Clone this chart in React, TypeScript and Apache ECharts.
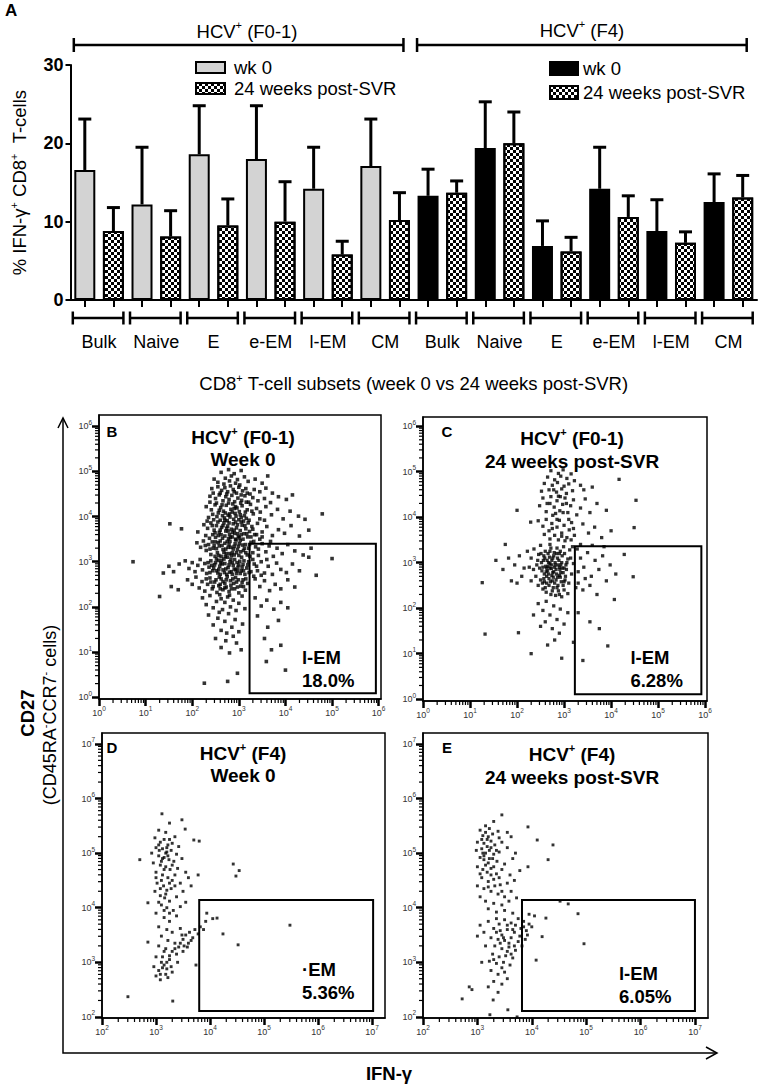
import React, { useEffect, useRef } from "react";
import * as echarts from "echarts";

const FONT = '"Liberation Sans", Arial, Helvetica, sans-serif';

// ---------------- Panel A data ----------------
const subsets = ["Bulk", "Naive", "E", "e-EM", "l-EM", "CM"];
const cohorts = ["F0-1", "F4"];
const timepoints = ["wk 0", "24 weeks post-SVR"];
const f01Wk0 = [16.6, 12.2, 18.6, 18.0, 14.2, 17.1];
const f01Wk0Sem = [6.5, 7.3, 6.2, 6.8, 5.3, 6.0];
const f01Post = [8.8, 8.1, 9.5, 10.0, 5.8, 10.2];
const f01PostSem = [3.0, 3.3, 3.4, 5.1, 1.7, 3.5];
const f4Wk0 = [13.3, 19.4, 6.9, 14.2, 8.8, 12.5];
const f4Wk0Sem = [3.4, 5.9, 3.2, 5.3, 4.0, 3.6];
const f4Post = [13.7, 20.0, 6.2, 10.6, 7.3, 13.1];
const f4PostSem = [1.5, 4.0, 1.8, 2.7, 1.4, 2.8];
const yTicksA = [0, 10, 20, 30];

// ---------------- Flow panels (log10 units) ----------------
const decadesBC = [0, 1, 2, 3, 4, 5, 6];
const decadesDE = [2, 3, 4, 5, 6, 7];
const panelLetters = ["B", "C", "D", "E"];
const panelCohort = ["(F0-1)", "(F0-1)", "(F4)", "(F4)"];
const panelTime = ["Week 0", "24 weeks post-SVR", "Week 0", "24 weeks post-SVR"];
const gateNames = ["l-EM", "l-EM", "\u00b7EM", "l-EM"];
const gatePercents = ["18.0%", "6.28%", "5.36%", "6.05%"];
const gateB = [3.23, 0.09, 5.94, 3.4];
const gateC = [3.23, 0.11, 5.92, 3.36];
const gateD = [3.8, 2.11, 7.02, 4.14];
const gateE = [3.82, 2.11, 7.0, 4.14];

const cellsB = [
  [2.62,4.98],[2.78,5.04],[2.9,4.95],[3.05,5.02],[2.71,4.85],[2.84,4.9],[2.97,4.82],[3.12,4.88],[2.55,4.76],[2.68,4.72],[2.8,4.79],[2.93,4.74],[3.02,4.7],[3.2,4.78],[3.35,4.83],[3.5,4.74],[2.47,4.83],[3.62,4.9],
  [2.42,4.62],[2.55,4.66],[2.63,4.58],[2.7,4.64],[2.76,4.55],[2.82,4.68],[2.88,4.6],[2.95,4.52],[3.0,4.65],[3.08,4.57],[3.15,4.62],[3.24,4.5],[3.33,4.6],[3.45,4.55],[3.58,4.63],[3.72,4.52],[2.38,4.45],[2.5,4.4],[2.58,4.48],[2.66,4.35],[2.72,4.44],[2.79,4.38],[2.85,4.47],[2.91,4.33],[2.98,4.41],[3.06,4.36],[3.13,4.46],[3.21,4.32],[3.3,4.42],[3.41,4.35],[3.55,4.4],[3.68,4.31],[3.85,4.44],[4.02,4.38],[4.15,4.48],
  [2.3,4.22],[2.41,4.15],[2.49,4.26],[2.56,4.08],[2.61,4.2],[2.67,4.12],[2.73,4.25],[2.77,4.03],[2.83,4.16],[2.87,4.28],[2.92,4.07],[2.96,4.19],[3.01,4.11],[3.07,4.24],[3.12,4.02],[3.18,4.15],[3.25,4.27],[3.31,4.06],[3.38,4.18],[2.35,3.98],[2.46,3.93],[2.53,4.0],[2.6,3.92],[2.69,3.97],[2.75,3.91],[2.81,3.99],[2.89,3.94],[2.94,4.01],[3.0,3.93],[3.05,3.98],[3.1,3.9],[3.16,3.96],[3.22,3.92],[2.71,4.08],[2.86,4.1],[3.46,4.1],[3.58,4.22],[3.7,4.04],[3.83,4.16],[3.95,3.95],[4.1,4.12],[4.28,4.01],[4.42,3.94],[1.52,3.84],
  [2.25,3.82],[2.33,3.74],[2.4,3.86],[2.47,3.7],[2.52,3.8],[2.58,3.65],[2.63,3.76],[2.68,3.86],[2.72,3.68],[2.76,3.79],[2.8,3.6],[2.84,3.72],[2.88,3.84],[2.91,3.63],[2.95,3.75],[2.99,3.56],[3.03,3.69],[3.07,3.81],[3.11,3.62],[3.15,3.73],[3.19,3.55],[3.23,3.67],[3.28,3.78],[3.34,3.6],[2.29,3.58],[2.37,3.52],[2.44,3.6],[2.5,3.54],[2.56,3.58],[2.65,3.52],[2.7,3.57],[2.78,3.51],[2.86,3.55],[2.93,3.5],[3.01,3.53],[3.09,3.5],[2.6,3.7],[2.74,3.74],[2.9,3.7],[2.97,3.82],[3.4,3.85],[3.5,3.66],[3.6,3.78],[3.72,3.58],[3.85,3.71],[3.98,3.63],[4.12,3.8],[4.3,3.57],[4.5,3.7],[1.77,3.73],[2.12,3.66],
  [2.1,3.42],[2.18,3.32],[2.24,3.46],[2.3,3.25],[2.35,3.38],[2.4,3.16],[2.45,3.3],[2.5,3.44],[2.54,3.2],[2.58,3.35],[2.62,3.12],[2.66,3.27],[2.7,3.41],[2.73,3.18],[2.77,3.32],[2.81,3.45],[2.84,3.14],[2.88,3.28],[2.92,3.4],[2.95,3.2],[2.99,3.34],[3.03,3.47],[3.06,3.1],[3.1,3.25],[3.14,3.38],[3.18,3.15],[3.21,3.3],[3.26,3.43],[3.3,3.2],[2.52,3.29],[2.68,3.21],[2.79,3.38],[2.86,3.2],[2.97,3.27],[3.08,3.37],[2.6,3.46],[2.75,3.1],[2.43,3.44],[3.36,3.33],[3.42,3.14],[3.5,3.4],[3.58,3.22],[3.65,3.35],[3.74,3.12],[3.82,3.3],[3.93,3.18],[4.05,3.38],[4.2,3.24],[4.38,3.15],[4.55,3.3],[5.0,3.07],
  [1.72,2.95],[1.85,3.02],[1.93,2.85],[2.0,2.98],[2.06,2.78],[2.12,2.92],[2.17,3.05],[2.22,2.82],[2.27,2.96],[2.31,2.74],[2.36,2.88],[2.4,3.02],[2.44,2.8],[2.48,2.93],[2.52,3.06],[2.55,2.75],[2.59,2.9],[2.63,3.03],[2.66,2.82],[2.7,2.96],[2.74,2.72],[2.77,2.87],[2.81,3.0],[2.84,2.78],[2.88,2.92],[2.91,3.05],[2.95,2.74],[2.98,2.88],[3.02,3.01],[3.05,2.8],[3.09,2.94],[3.13,2.72],[3.17,2.86],[3.21,3.0],[3.26,2.78],[2.46,2.86],[2.61,2.97],[2.72,2.84],[2.86,2.98],[2.93,2.82],[3.0,2.93],[2.57,2.83],[3.33,2.95],[3.4,2.8],[3.48,3.0],[3.55,2.75],[3.63,2.9],[3.72,2.72],[3.81,2.97],[3.9,2.83],[4.02,2.76],[4.15,2.95],[4.3,2.8],[4.66,2.7],[1.5,2.9],[1.6,2.78],[0.73,3.0],[1.38,2.75],
  [1.9,2.6],[2.0,2.5],[2.08,2.66],[2.15,2.42],[2.21,2.56],[2.27,2.35],[2.33,2.5],[2.38,2.64],[2.43,2.4],[2.48,2.55],[2.53,2.32],[2.57,2.47],[2.62,2.62],[2.66,2.38],[2.7,2.52],[2.75,2.67],[2.79,2.34],[2.83,2.48],[2.87,2.62],[2.91,2.4],[2.95,2.55],[3.0,2.31],[3.04,2.46],[3.09,2.6],[3.14,2.37],[3.19,2.52],[2.6,2.5],[2.73,2.44],[2.89,2.52],[3.35,2.62],[3.45,2.45],[3.55,2.58],[3.66,2.36],[3.78,2.5],[3.9,2.4],[4.05,2.6],[4.2,2.44],[1.3,2.23],[1.55,2.45],[1.7,2.38],
  [2.22,2.2],[2.3,2.05],[2.38,2.25],[2.45,1.98],[2.52,2.12],[2.59,2.27],[2.65,1.94],[2.7,2.1],[2.76,2.22],[2.82,2.0],[2.88,2.15],[2.94,1.92],[3.0,2.08],[3.07,2.24],[3.13,1.96],[2.62,2.18],[2.8,2.26],[3.35,2.2],[3.48,2.02],[3.6,2.15],[3.75,1.95],[3.9,2.1],[4.05,1.98],
  [2.35,1.82],[2.45,1.6],[2.55,1.75],[2.62,1.48],[2.7,1.68],[2.78,1.85],[2.85,1.55],[2.92,1.72],[3.0,1.45],[3.08,1.62],[2.58,1.88],[2.74,1.42],[3.4,1.8],[3.62,1.55],[3.85,1.7],[3.9,1.15],
  [2.5,1.3],[2.62,1.1],[2.72,1.25],[2.8,0.98],[2.95,1.2],[3.05,1.05],[2.88,1.35],[3.55,1.3],[3.7,1.05],
  [2.26,0.31],[2.76,0.35],[2.97,0.53],[3.59,0.79],[4.0,0.6],[4.79,4.06],[4.5,3.1],
  [2.45,4.52],[2.6,4.52],[2.74,4.5],[2.9,4.55],[3.05,4.48],[3.18,4.52],
  [2.38,4.32],[2.52,4.3],[2.64,4.26],[2.78,4.3],[2.93,4.22],[3.04,4.3],[3.16,4.32],[2.44,4.05],[2.58,4.14],[2.65,4.02],[2.8,4.06],[2.9,4.18],[3.03,4.04],[3.14,4.1],[3.28,4.12],
  [2.32,3.9],[2.43,3.8],[2.55,3.88],[2.66,3.8],[2.7,3.92],[2.79,3.86],[2.86,3.65],[2.93,3.88],[3.05,3.88],[3.13,3.8],[3.2,3.86],[2.49,3.64],[2.62,3.6],[2.77,3.68],[2.82,3.54],[2.97,3.62],[3.05,3.6],[3.17,3.62],[3.26,3.55],
  [2.28,3.36],[2.38,3.28],[2.47,3.36],[2.56,3.42],[2.64,3.36],[2.72,3.28],[2.75,3.45],[2.83,3.32],[2.9,3.34],[2.94,3.48],[3.01,3.4],[3.04,3.22],[3.12,3.3],[3.23,3.38],[2.49,3.12],[2.57,3.14],[2.71,3.12],[2.8,3.18],[2.9,3.15],[3.0,3.14],[3.15,3.2],[3.24,3.12],
  [2.34,2.98],[2.42,2.92],[2.5,2.98],[2.56,3.03],[2.64,2.95],[2.68,3.06],[2.79,2.93],[2.83,3.06],[2.9,2.84],[2.96,2.98],[3.07,2.88],[3.11,3.02],[3.19,2.93],[2.38,2.76],[2.52,2.8],[2.6,2.72],[2.69,2.76],[2.8,2.77],[2.86,2.72],[2.97,2.8],[3.03,2.74],[3.1,2.8],[3.22,2.76],
  [2.3,2.62],[2.4,2.55],[2.51,2.6],[2.58,2.66],[2.66,2.56],[2.73,2.6],[2.82,2.58],[2.93,2.65],[2.99,2.6],[3.07,2.54],[3.15,2.62],[2.45,2.45],[2.6,2.4],[2.7,2.42],[2.84,2.4],[2.97,2.44],[3.1,2.45],
  [3.3,3.72],[3.38,3.6],[3.45,3.5],[3.32,3.45],[3.42,3.28],[3.3,3.05],[3.38,2.9],[3.48,2.7],[3.32,2.68],[3.45,3.95],[3.55,3.92],[3.6,3.05],[3.5,3.55],[3.68,3.45]
];

const cellsC = [
  [2.72,5.02],[2.88,4.96],[2.98,5.04],[2.65,4.88],[2.8,4.82],[2.93,4.9],[3.06,4.85],[3.15,4.95],[2.58,4.74],[2.75,4.7],[2.86,4.76],[3.0,4.68],[3.1,4.73],[3.22,4.8],[3.35,4.7],[2.68,4.6],[2.84,4.55],[2.95,4.62],[3.05,4.52],[3.18,4.58],[3.42,4.6],[3.6,4.66],[4.17,4.83],[2.52,4.57],
  [2.55,4.42],[2.64,4.3],[2.72,4.45],[2.79,4.22],[2.85,4.36],[2.91,4.14],[2.97,4.28],[3.02,4.42],[3.08,4.1],[3.14,4.25],[3.2,4.38],[3.27,4.05],[2.62,4.12],[2.76,4.04],[2.88,4.46],[2.48,4.25],[3.35,4.2],[3.45,4.4],[3.55,4.1],[3.7,4.3],[3.9,4.15],[4.53,4.37],[2.0,4.15],[2.82,4.08],
  [2.45,3.92],[2.55,3.8],[2.62,3.95],[2.68,3.7],[2.74,3.86],[2.8,3.6],[2.85,3.78],[2.9,3.93],[2.95,3.65],[3.0,3.82],[3.06,3.55],[3.11,3.72],[3.16,3.88],[3.22,3.6],[2.7,3.52],[2.88,3.5],[3.02,3.48],[3.15,3.5],[2.58,3.62],[2.29,3.89],[3.4,3.85],[3.52,3.65],[3.65,3.78],[3.8,3.55],[4.0,3.7],[4.49,3.77],[1.75,3.4],
  [2.22,3.25],[2.3,3.1],[2.36,3.3],[2.42,2.95],[2.46,3.18],[2.5,3.38],[2.53,2.82],[2.56,3.05],[2.6,3.25],[2.63,2.7],[2.66,2.92],[2.69,3.12],[2.72,3.32],[2.75,2.6],[2.78,2.8],[2.81,3.0],[2.84,3.2],[2.87,2.5],[2.9,2.72],[2.93,2.95],[2.96,3.15],[2.99,3.35],[3.02,2.62],[3.05,2.85],[3.08,3.08],[3.12,3.28],[3.16,2.75],[3.2,2.98],[2.4,2.7],[2.45,2.5],[2.5,2.62],[2.55,2.42],[2.58,2.58],[2.62,2.35],[2.68,2.5],[2.72,2.3],[2.77,2.45],[2.82,2.28],[2.88,2.38],[2.95,2.25],[3.0,2.4],[3.08,2.32],[2.48,2.88],[2.52,3.0],[2.58,2.75],[2.65,2.82],[2.7,2.98],[2.74,2.72],[2.8,2.9],[2.86,2.68],[2.91,2.85],[2.98,2.78],[3.04,2.95],[2.57,3.15],[2.64,3.05],[2.76,3.1],[2.83,2.62],[2.89,3.05],[2.94,2.58],[2.68,2.65],[2.61,2.92],[2.79,3.22],[3.1,2.55],[3.14,3.1],[2.35,2.85],[2.3,2.6],[2.26,2.9],[2.92,3.25],[3.18,3.35],[2.85,3.32],[2.7,3.4],[2.54,2.55],[2.73,2.87],[2.87,2.95],[2.77,2.68],[2.96,2.88],[3.01,3.2],[2.66,3.2],
  [1.55,3.05],[1.7,2.85],[1.82,3.1],[1.95,2.95],[2.05,3.15],[2.1,2.7],[2.15,2.88],[2.0,2.55],[1.26,2.56],[1.88,2.6],
  [3.28,3.3],[3.35,3.1],[3.42,2.9],[3.5,3.22],[3.58,2.7],[3.66,3.05],[3.74,2.85],[3.82,3.15],[3.9,2.6],[3.98,2.95],[4.1,2.75],[4.28,3.18],[4.47,2.69],[4.07,2.19],[3.3,2.55],[3.4,2.4],[3.55,2.5],[3.7,2.3],[3.6,3.38],[3.85,3.35],[3.3,2.8],[3.45,2.65],[3.35,3.4],[3.25,2.45],
  [2.45,2.1],[2.55,1.95],[2.62,2.15],[2.7,1.85],[2.78,2.05],[2.85,1.75],[2.92,1.98],[3.0,1.65],[3.08,1.9],[2.6,1.7],[2.75,1.55],[2.9,1.45],[2.5,1.6],[2.65,1.19],[2.03,1.46],[1.32,1.43],[3.3,1.9],[3.55,1.7],[3.93,1.17],[3.2,1.25],[2.8,1.3],[3.4,0.85],[3.75,1.55],[2.35,1.85],[2.95,0.9],[2.3,1.0],
  [2.44,3.05],[2.51,3.2],[2.55,2.9],[2.59,3.1],[2.62,2.8],[2.67,3.0],[2.7,2.88],[2.74,3.05],[2.76,2.78],[2.81,2.95],[2.84,2.75],[2.86,3.1],[2.9,2.9],[2.93,2.78],[2.95,3.0],[3.0,2.88],[3.03,2.7],[3.06,3.0],[2.57,2.65],[2.63,2.55],[2.71,2.58],[2.8,2.55],[2.85,2.45],[2.92,2.68],[2.98,2.5],[2.6,2.45],[2.75,2.38],[2.9,2.3],[3.0,2.58],[2.67,2.75],[2.78,3.15],[2.7,3.25],[2.9,3.2],[2.83,2.85],[2.73,2.95],[2.63,2.88],
  [2.78,4.6],[2.92,4.45],[3.05,4.3],[2.7,4.3],[2.98,4.1],[2.85,3.95],[3.1,3.95],[2.75,3.75],[2.95,3.58],[3.2,3.75]
];

const cellsD = [
  [3.11,5.72],[3.48,5.61],[3.54,5.44],[3.25,5.55],[3.05,5.42],[3.18,5.38],[3.35,5.3],[3.7,5.24],[3.8,5.22],[2.98,5.28],[3.08,5.2],[3.15,5.25],[3.22,5.15],[3.3,5.18],[3.42,5.12],[3.0,5.1],[3.12,5.08],[3.2,5.02],[3.28,5.05],[3.38,4.98],[2.92,5.0],[3.05,4.95],[3.15,4.92],[3.24,4.88],[3.33,4.85],[3.48,4.9],[2.95,4.82],[3.08,4.78],[3.18,4.75],[3.26,4.7],[3.4,4.72],[3.55,4.65],[2.7,4.88],[3.0,4.65],[3.12,4.6],[3.22,4.55],[3.3,4.5],[3.45,4.45],[3.6,4.55],[3.78,4.6],[3.02,4.45],[3.14,4.4],[3.2,4.32],[3.28,4.35],[3.5,4.3],[3.65,4.4],[2.98,4.3],[3.08,4.22],[3.16,4.18],[3.25,4.12],[3.38,4.2],[3.55,4.1],[2.85,4.09],[3.1,4.05],[3.2,4.0],[3.32,3.95],[3.45,4.02],[3.12,4.9],[3.2,5.1],[3.1,4.5],[3.35,4.6],[3.06,5.05],[4.43,4.8],[4.54,4.68],[4.48,4.58],
  [3.0,3.9],[3.15,3.82],[3.25,3.75],[3.38,3.85],[3.05,3.65],[3.2,3.6],[3.3,3.55],[3.45,3.62],[3.55,3.5],[3.1,3.48],[3.22,3.4],[3.35,3.35],[3.5,3.42],[3.62,3.55],[3.72,3.6],[3.82,3.65],[3.92,3.75],[4.05,3.8],[4.13,3.81],[3.94,3.9],[4.24,3.52],[3.68,3.45],[3.78,3.52],[3.88,3.6],[3.6,3.35],[3.42,3.28],[3.3,3.2],[3.18,3.25],[3.05,3.3],[2.85,3.37],[3.12,3.1],[3.25,3.05],[3.38,3.15],[3.5,3.2],[3.15,2.95],[3.05,2.85],[3.2,2.88],[3.28,2.92],[3.1,3.0],[3.0,2.75],[3.18,2.78],[3.08,2.68],[3.22,2.72],[3.74,2.95],[4.52,3.32],[5.48,3.68],[2.48,2.37],[3.31,2.29],[3.0,3.1],[3.4,3.0],[3.15,3.2],[3.3,2.82],[2.96,2.92],[3.58,3.28],[3.48,3.5],
  [3.05,5.15],[3.18,5.0],[3.25,5.25],[3.1,4.85],[3.22,4.95],[3.3,4.78],[3.0,4.55],[3.15,4.7],[3.25,4.45],[3.08,4.35],[3.18,4.25],[3.35,4.4],[3.05,4.1],[3.15,3.95],[3.25,3.9],
  [3.12,2.9],[3.25,3.12],[3.35,3.25],[3.45,3.35],[3.52,3.3],[3.65,3.4],[3.2,3.0],[3.08,2.78]
];

const cellsE = [
  [3.45,5.7],[3.93,5.48],[3.3,5.58],[3.15,5.5],[3.05,5.42],[3.22,5.45],[3.38,5.4],[3.55,5.38],[3.1,5.32],[3.2,5.3],[3.28,5.35],[3.4,5.28],[3.62,5.3],[4.1,5.24],[4.39,5.15],[3.0,5.2],[3.12,5.18],[3.18,5.12],[3.25,5.22],[3.32,5.15],[3.45,5.2],[3.55,5.1],[2.98,5.05],[3.08,5.08],[3.15,5.0],[3.22,5.05],[3.3,4.98],[3.4,5.02],[3.7,5.0],[3.05,4.92],[3.12,4.88],[3.2,4.82],[3.28,4.9],[3.36,4.85],[3.5,4.8],[3.65,4.9],[4.3,4.88],[3.0,4.75],[3.1,4.7],[3.18,4.65],[3.25,4.72],[3.35,4.62],[3.45,4.7],[3.6,4.6],[3.93,4.75],[3.78,4.68],[3.08,4.55],[3.2,4.48],[3.3,4.52],[3.42,4.42],[3.55,4.45],[3.68,4.5],[3.0,4.4],[3.12,4.35],[3.25,4.3],[3.38,4.25],[3.5,4.2],[3.62,4.3],[3.05,4.2],[3.15,4.12],[3.3,4.08],[3.45,4.05],[3.58,4.12],[3.72,4.18],[3.2,3.98],[3.35,3.92],[3.5,3.95],[3.65,3.9],[4.52,4.12],[4.67,4.07],[4.85,3.89],[3.1,5.0],[3.25,4.6],[3.18,5.25],
  [3.05,3.68],[3.0,3.48],[3.2,3.75],[3.35,3.8],[3.5,3.78],[3.62,3.72],[3.75,3.8],[3.85,3.75],[3.95,3.88],[4.05,3.85],[4.26,3.81],[4.19,3.47],[3.3,3.62],[3.42,3.58],[3.55,3.6],[3.68,3.55],[3.8,3.62],[3.9,3.58],[4.0,3.65],[3.25,3.45],[3.38,3.42],[3.5,3.4],[3.62,3.45],[3.75,3.38],[3.88,3.42],[3.32,3.3],[3.45,3.25],[3.58,3.28],[3.7,3.22],[3.82,3.3],[3.28,3.15],[3.4,3.1],[3.52,3.12],[3.65,3.08],[3.22,3.02],[3.35,2.98],[3.48,3.0],[3.6,2.95],[3.08,3.0],[4.08,3.04],[4.96,3.34],[3.25,2.85],[3.38,2.78],[3.5,2.82],[3.3,2.65],[3.45,2.6],[3.55,2.7],[3.2,2.55],[3.38,2.45],[2.85,2.55],[2.9,2.5],[2.72,2.33],[3.29,2.31],[3.23,2.04],[3.56,2.13],[3.73,2.0],[3.15,3.3],[3.12,3.55],[3.45,3.5],[3.7,3.68],[3.58,3.35],[3.92,3.5],
  [3.08,5.25],[3.15,5.38],[3.25,5.1],[3.35,5.05],[3.12,4.95],[3.22,4.9],[3.3,4.75],[3.15,4.78],[3.05,4.62],[3.4,4.55],[3.2,4.38],[3.32,4.4],[3.45,4.3],
  [3.4,3.7],[3.55,3.68],[3.35,3.55],[3.48,3.45],[3.65,3.6],[3.42,3.35],[3.55,3.2],[3.68,3.3],[3.78,3.48],[3.3,3.05],[3.45,2.9],[3.62,3.15],[3.85,3.65],[3.95,3.7]
];

// ---------------- helpers ----------------
const supRich = (size: number, bold: boolean, color = "#000") => ({
  t: { fontSize: size, fontFamily: FONT, fontWeight: bold ? "bold" : "normal", color, fill: color, lineHeight: size + 4 },
  s: { fontSize: Math.round(size * 0.6), fontFamily: FONT, fontWeight: bold ? "bold" : "normal", color, fill: color, verticalAlign: "top" },
});

const powRich = {
  b: { fontSize: 9, fontFamily: FONT, color: "#333", lineHeight: 15 },
  s: { fontSize: 6.5, fontFamily: FONT, color: "#333", verticalAlign: "top" },
};
const powLabel = (v: number) => `{b|10}{s|${Math.round(v)}}`;

// minor (2..9 x 10^n) tick positions of a log axis, in decades
function minorTicks(min: number, max: number) {
  const out: number[] = [];
  for (let d = Math.floor(min); d <= Math.ceil(max); d++) {
    for (let k = 2; k <= 9; k++) {
      const v = d + Math.log10(k);
      if (v > min && v < max) out.push(v);
    }
  }
  return out;
}

function flowAxis(gridIndex: number, min: number, max: number, majors: number[], isX: boolean) {
  return {
    type: "value", gridIndex, position: isX ? "bottom" : "left", min, max,
    axisLine: { show: true, onZero: false, lineStyle: { color: "#000", width: 1.5 } },
    axisTick: { show: true, inside: false, length: 7, customValues: majors, lineStyle: { color: "#000", width: 2.5 } },
    axisLabel: { show: true, customValues: majors, formatter: powLabel, rich: powRich, margin: isX ? 6 : 7 },
    splitLine: { show: false },
  };
}

function buildOption() {
  const barCats: string[] = [];
  cohorts.forEach((c) => subsets.forEach((s) => timepoints.forEach((t) => barCats.push(`${c} ${s} ${t}`))));
  const groupCats: string[] = [];
  cohorts.forEach((c) => subsets.forEach((s) => groupCats.push(`${c}|${s}`)));

  const place = (values: number[], ci: number, ti: number) =>
    barCats.map((_, i) => {
      const c = Math.floor(i / 12);
      const t = i % 2;
      const s = Math.floor((i % 12) / 2);
      return c === ci && t === ti ? values[s] : "-";
    });

  const means = [
    [f01Wk0, f01Post],
    [f4Wk0, f4Post],
  ];
  const sems = [
    [f01Wk0Sem, f01PostSem],
    [f4Wk0Sem, f4PostSem],
  ];
  const errData = barCats.map((_, i) => {
    const c = Math.floor(i / 12);
    const t = i % 2;
    const s = Math.floor((i % 12) / 2);
    const m = means[c][t][s];
    return [i, m, m + sems[c][t][s]];
  });
  const groupSpans = groupCats.map((_, g) => [2 * g, 2 * g + 1]);
  const cohortSpans = cohorts.map((_, c) => [c * 12, c * 12 + 11]);
  const yMaxA = yTicksA[yTicksA.length - 1];

  const checker = {
    symbol: "rect",
    symbolSize: 1,
    color: "#000",
    dashArrayX: [[3, 3], [0, 3, 3, 0]],
    dashArrayY: [3, 0],
    rotation: 0,
  };
  const barBase = { type: "bar", xAxisIndex: 0, yAxisIndex: 0, barWidth: 21, barGap: "-100%", silent: true };

  const flowGrids = [
    { left: 99, top: 415, width: 282, height: 284 },
    { left: 423, top: 417, width: 284, height: 284 },
    { left: 102, top: 733, width: 283, height: 285 },
    { left: 423, top: 733, width: 285, height: 285 },
  ];
  const flowX = [
    [0, 6.05, decadesBC],
    [0, 6.04, decadesBC],
    [2, 7.24, decadesDE],
    [2, 7.24, decadesDE],
  ] as any[];
  const flowY = [
    [-0.04, 6.25, decadesBC],
    [-0.04, 6.2, decadesBC],
    [1.98, 7.2, decadesDE],
    [1.98, 7.2, decadesDE],
  ] as any[];
  const cells = [cellsB, cellsC, cellsD, cellsE];
  const gates = [gateB, gateC, gateD, gateE];
  const dotSize = [3.6, 3.3, 2.9, 2.9];
  const gateLabelPos = [
    ["41.6%", "68%"],
    ["44%", "67%"],
    ["59%", "52%"],
    ["56%", "56%"],
  ];

  const xAxes: any[] = [
    {
      type: "category", gridIndex: 0, position: "bottom", data: barCats,
      axisLine: { show: true, onZero: false, lineStyle: { color: "#000", width: 2 } },
      axisTick: { show: true, alignWithLabel: true, interval: 0, length: 7, lineStyle: { color: "#000", width: 2 } },
      axisLabel: { show: false },
      splitLine: { show: false },
    },
    {
      type: "category", gridIndex: 0, position: "bottom", offset: 25, data: groupCats,
      axisLine: { show: false }, axisTick: { show: false },
      axisLabel: { show: true, interval: 0, margin: 8, fontSize: 18, fontFamily: FONT, color: "#000", formatter: (v: string) => v.split("|")[1] },
      name: "{t|CD8}{s|+}{t| T-cell subsets (week 0 vs 24 weeks post-SVR)}",
      nameLocation: "middle", nameGap: 47,
      nameTextStyle: { rich: supRich(18.5, false) },
    },
  ];
  const yAxes: any[] = [
    {
      type: "value", gridIndex: 0, min: yTicksA[0], max: yMaxA, interval: 10,
      axisLine: { show: true, onZero: false, lineStyle: { color: "#000", width: 2 } },
      axisTick: { show: true, length: 5, lineStyle: { color: "#000", width: 2 } },
      axisLabel: { fontSize: 18, fontWeight: "bold", fontFamily: FONT, color: "#000", margin: 7 },
      splitLine: { show: false },
      name: "{t|% IFN-\u03b3}{s|+}{t| CD8}{s|+}{t|  T-cells}",
      nameLocation: "middle", nameGap: 40, nameRotate: 90,
      nameTextStyle: { rich: supRich(18.5, false) },
    },
  ];
  for (let p = 0; p < 4; p++) {
    const [xmin, xmax, xm] = flowX[p];
    const [ymin, ymax, ym] = flowY[p];
    xAxes.push(flowAxis(p + 1, xmin, xmax, xm, true));
    yAxes.push(flowAxis(p + 1, ymin, ymax, ym, false));
  }

  const flowSeries: any[] = [];
  cells.forEach((data, p) => {
    const g = gates[p];
    const [xmin, xmax] = flowX[p];
    const [ymin, ymax] = flowY[p];
    flowSeries.push({
      type: "scatter",
      name: `Panel ${panelLetters[p]}`,
      xAxisIndex: p + 2,
      yAxisIndex: p + 1,
      data,
      symbol: "rect",
      symbolSize: dotSize[p],
      itemStyle: { color: "#000" },
      silent: true,
      markArea: {
        silent: true,
        emphasis: { disabled: true },
        itemStyle: { color: "rgba(0,0,0,0)", borderColor: "#000", borderWidth: 2 },
        label: {
          show: true,
          position: gateLabelPos[p],
          align: "left",
          verticalAlign: "top",
          formatter: `${gateNames[p]}\n${gatePercents[p]}`,
          fontSize: 18.5,
          fontWeight: "bold",
          fontFamily: FONT,
          color: "#000",
          lineHeight: 23,
        },
        data: [[{ coord: [g[0], g[1]] }, { coord: [g[2], g[3]] }]],
      },
    });
    // minor log ticks along the bottom axis
    flowSeries.push({
      type: "custom", name: `minor x ${panelLetters[p]}`, xAxisIndex: p + 2, yAxisIndex: p + 1, silent: true, clip: false,
      data: minorTicks(xmin, xmax).map((v) => [v, ymin]),
      renderItem: (params: any, api: any) => {
        const pt = api.coord([api.value(0), api.value(1)]);
        return { type: "line", shape: { x1: pt[0], y1: pt[1], x2: pt[0], y2: pt[1] + 4 }, style: { stroke: "#000", lineWidth: 1.2 } };
      },
    });
    // minor log ticks along the left axis
    flowSeries.push({
      type: "custom", name: `minor y ${panelLetters[p]}`, xAxisIndex: p + 2, yAxisIndex: p + 1, silent: true, clip: false,
      data: minorTicks(ymin, ymax).map((v) => [xmin, v]),
      renderItem: (params: any, api: any) => {
        const pt = api.coord([api.value(0), api.value(1)]);
        return { type: "line", shape: { x1: pt[0] - 4, y1: pt[1], x2: pt[0], y2: pt[1] }, style: { stroke: "#000", lineWidth: 1.2 } };
      },
    });
  });

  const titleCenters = [
    [243, 437, 459],
    [572, 438, 461],
    [243, 753, 775],
    [572, 754, 777],
  ];
  const letterPos = [
    [112, 431],
    [447, 431],
    [112, 747],
    [447, 747],
  ];

  const graphics: any[] = [
    { type: "text", x: 5, y: 2, style: { text: "A", font: `bold 17px ${FONT}`, fill: "#000", align: "left", verticalAlign: "top" } },
    { type: "text", x: 247, y: 31, style: { text: "{t|HCV}{s|+}{t| (F0-1)}", rich: supRich(18.5, false), fill: "#000", align: "center", verticalAlign: "middle" } },
    { type: "text", x: 582, y: 30, style: { text: "{t|HCV}{s|+}{t| (F4)}", rich: supRich(18.5, false), fill: "#000", align: "center", verticalAlign: "middle" } },
    { type: "polyline", shape: { points: [[63, 418], [63, 1053], [717, 1053]] }, style: { stroke: "#000", lineWidth: 1.5, fill: null } },
    { type: "polyline", shape: { points: [[58, 428], [63, 418], [68, 428]] }, style: { stroke: "#000", lineWidth: 1.5, fill: null } },
    { type: "polyline", shape: { points: [[706, 1047], [717, 1053], [706, 1059]] }, style: { stroke: "#000", lineWidth: 1.5, fill: null } },
    { type: "text", x: 27, y: 713, rotation: Math.PI / 2, style: { text: "CD27", font: `bold 18.5px ${FONT}`, fill: "#000", align: "center", verticalAlign: "middle" } },
    { type: "text", x: 50, y: 715, rotation: Math.PI / 2, style: { text: "{t|(CD45RA}{s|-}{t|CCR7}{s|-}{t| cells)}", rich: supRich(18, false), fill: "#000", align: "center", verticalAlign: "middle" } },
    { type: "text", x: 389, y: 1073, style: { text: "IFN-\u03b3", font: `bold 18.5px ${FONT}`, fill: "#000", align: "center", verticalAlign: "middle" } },
  ];
  for (let p = 0; p < 4; p++) {
    const [cx, y1, y2] = titleCenters[p];
    graphics.push({ type: "text", x: letterPos[p][0], y: letterPos[p][1], style: { text: panelLetters[p], font: `bold 15px ${FONT}`, fill: "#000", align: "center", verticalAlign: "middle" } });
    graphics.push({ type: "text", x: cx, y: y1, style: { text: `{t|HCV}{s|+}{t| ${panelCohort[p]}}`, rich: supRich(19, true), fill: "#000", align: "center", verticalAlign: "middle" } });
    graphics.push({ type: "text", x: cx, y: y2, style: { text: panelTime[p], font: `bold 19px ${FONT}`, fill: "#000", align: "center", verticalAlign: "middle" } });
  }

  const legendStrip = (name: string) => name.split(" ").slice(1).join(" ");

  return {
    animation: false,
    backgroundColor: "#fff",
    textStyle: { fontFamily: FONT },
    grid: [
      { left: 69, top: 65, width: 688, height: 235 },
      ...flowGrids.map((g) => ({ ...g, show: true, borderColor: "#000", borderWidth: 1.5, backgroundColor: "transparent" })),
    ],
    legend: [
      {
        data: [`${cohorts[0]} ${timepoints[0]}`, `${cohorts[0]} ${timepoints[1]}`],
        left: 190, top: 53, orient: "vertical", icon: "rect",
        itemWidth: 29, itemHeight: 11, itemGap: 2, selectedMode: false,
        formatter: legendStrip,
        textStyle: { fontSize: 18.5, fontFamily: FONT, color: "#000", lineHeight: 18, padding: [0, 0, 0, 4] },
      },
      {
        data: [`${cohorts[1]} ${timepoints[0]}`, `${cohorts[1]} ${timepoints[1]}`],
        left: 544, top: 54, orient: "vertical", icon: "rect",
        itemWidth: 28, itemHeight: 13, itemGap: 5, selectedMode: false,
        formatter: legendStrip,
        textStyle: { fontSize: 18.5, fontFamily: FONT, color: "#000", lineHeight: 18 },
      },
    ],
    xAxis: xAxes,
    yAxis: yAxes,
    series: [
      { ...barBase, name: `${cohorts[0]} ${timepoints[0]}`, data: place(f01Wk0, 0, 0), itemStyle: { color: "#d3d3d3", borderColor: "#000", borderWidth: 2 } },
      { ...barBase, name: `${cohorts[0]} ${timepoints[1]}`, data: place(f01Post, 0, 1), itemStyle: { color: "#fff", borderColor: "#000", borderWidth: 2, decal: checker } },
      { ...barBase, name: `${cohorts[1]} ${timepoints[0]}`, data: place(f4Wk0, 1, 0), itemStyle: { color: "#000", borderColor: "#000", borderWidth: 2 } },
      { ...barBase, name: `${cohorts[1]} ${timepoints[1]}`, data: place(f4Post, 1, 1), itemStyle: { color: "#fff", borderColor: "#000", borderWidth: 2, decal: checker } },
      {
        type: "custom", name: "SEM", xAxisIndex: 0, yAxisIndex: 0, data: errData, z: 5, silent: true, clip: false,
        renderItem: (params: any, api: any) => {
          const x = api.value(0);
          const lo = api.coord([x, api.value(1)]);
          const hi = api.coord([x, api.value(2)]);
          return {
            type: "group",
            children: [
              { type: "line", shape: { x1: lo[0], y1: lo[1], x2: hi[0], y2: hi[1] }, style: { stroke: "#000", lineWidth: 3 } },
              { type: "line", shape: { x1: hi[0] - 6.5, y1: hi[1], x2: hi[0] + 6.5, y2: hi[1] }, style: { stroke: "#000", lineWidth: 3 } },
            ],
          };
        },
      },
      {
        type: "custom", name: "subset brackets", xAxisIndex: 0, yAxisIndex: 0, data: groupSpans, silent: true, clip: false,
        renderItem: (params: any, api: any) => {
          const a = api.coord([api.value(0), 0]);
          const b = api.coord([api.value(1), 0]);
          const y = a[1] + 18;
          const x1 = a[0] - 12;
          const x2 = b[0] + 10;
          const st = { stroke: "#000", lineWidth: 2.5 };
          return {
            type: "group",
            children: [
              { type: "line", shape: { x1, y1: y, x2, y2: y }, style: st },
              { type: "line", shape: { x1, y1: y - 6.5, x2: x1, y2: y + 6.5 }, style: st },
              { type: "line", shape: { x1: x2, y1: y - 6.5, x2, y2: y + 6.5 }, style: st },
            ],
          };
        },
      },
      {
        type: "custom", name: "cohort brackets", xAxisIndex: 0, yAxisIndex: 0, data: cohortSpans, silent: true, clip: false,
        renderItem: (params: any, api: any) => {
          const a = api.coord([api.value(0), yMaxA]);
          const b = api.coord([api.value(1), yMaxA]);
          const y = a[1] - 20;
          const x1 = a[0] - 11;
          const x2 = b[0] + 4;
          const st = { stroke: "#000", lineWidth: 2.5 };
          return {
            type: "group",
            children: [
              { type: "line", shape: { x1, y1: y, x2, y2: y }, style: st },
              { type: "line", shape: { x1, y1: y - 7, x2: x1, y2: y + 7 }, style: st },
              { type: "line", shape: { x1: x2, y1: y - 7, x2, y2: y + 7 }, style: st },
            ],
          };
        },
      },
      ...flowSeries,
    ],
    graphic: { elements: graphics },
  };
}

export default function App() {
  const ref = useRef<HTMLDivElement>(null);
  useEffect(() => {
    if (!ref.current) return;
    const chart = echarts.init(ref.current, null, { renderer: "svg" });
    chart.setOption(buildOption() as any);
    return () => chart.dispose();
  }, []);
  return (
    <div
      ref={ref}
      style={{ position: "absolute", left: 0, top: 0, width: 765, height: 1085, background: "#fff" }}
    />
  );
}
